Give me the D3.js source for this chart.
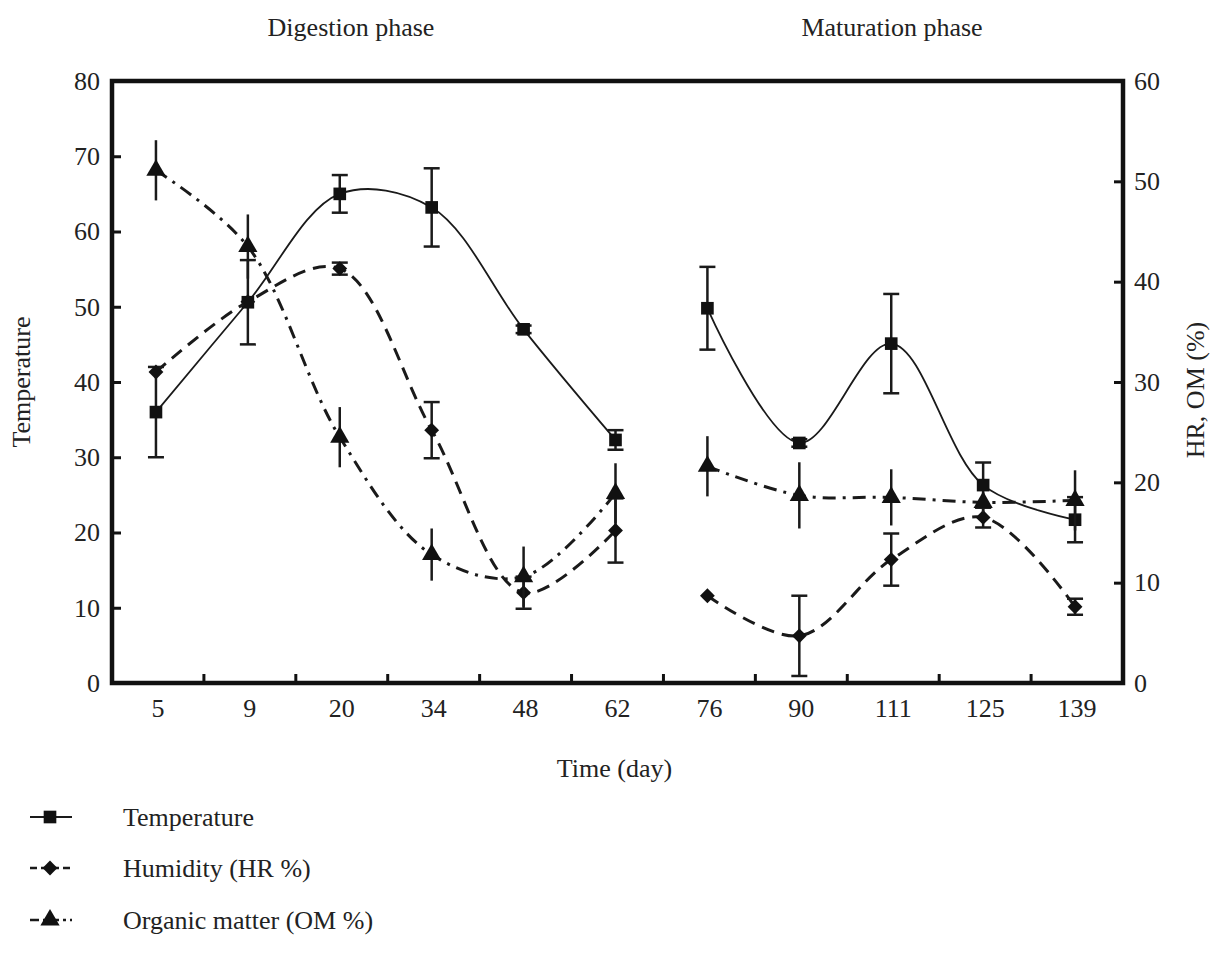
<!DOCTYPE html>
<html>
<head>
<meta charset="utf-8">
<script src="https://cdn.jsdelivr.net/npm/d3@7"></script>
<style>
  html, body { margin: 0; padding: 0; background: #fff; }
  svg { display: block; }
  text { font-family: "Liberation Serif", "DejaVu Serif", serif; fill: #222; }
</style>
</head>
<body>
<svg id="chart" width="1218" height="960"></svg>
<script>
// ---- data ----
const days = ["5", "9", "20", "34", "48", "62", "76", "90", "111", "125", "139"];
const temperature = [36.0, 50.6, 65.0, 63.2, 47.0, 32.3, 49.8, 31.9, 45.1, 26.3, 21.7];
const temperatureErr = [6.0, 5.6, 2.5, 5.2, 0.5, 1.3, 5.5, 0.5, 6.6, 3.0, 3.0];
const humidity = [31.0, 38.0, 41.3, 25.2, 9.0, 15.2, 8.7, 4.7, 12.3, 16.5, 7.6];
const humidityErr = [0, 0, 0.6, 2.8, 1.6, 3.2, 0, 4.0, 2.6, 1.0, 0.8];
const organic = [51.1, 43.5, 24.5, 12.8, 10.6, 18.9, 21.6, 18.7, 18.5, 18.0, 18.2];
const organicErr = [3.0, 3.2, 3.0, 2.6, 3.0, 3.0, 3.0, 3.3, 2.8, 1.0, 3.0];
const phases = ["Digestion phase", "Maturation phase"];
const phaseIndex = [0, 0, 0, 0, 0, 0, 1, 1, 1, 1, 1];
const leftTicks = [0, 10, 20, 30, 40, 50, 60, 70, 80];
const rightTicks = [0, 10, 20, 30, 40, 50, 60];

// ---- layout ----
const svg = d3.select("#chart");
const L = 112, R = 1123, T = 81, B = 683;

const x = d3.scaleBand().domain(days).range([L, R]);
const cx = d => x(d) + x.bandwidth() / 2 - 2;
const yL = d3.scaleLinear().domain([0, 80]).range([B, T]);
const yR = d3.scaleLinear().domain([0, 60]).range([B, T]);

const fontSize = 26;

// axes
const gL = svg.append("g").attr("transform", `translate(${L},0)`)
  .call(d3.axisLeft(yL).tickValues(leftTicks).tickSize(-9).tickPadding(12).tickFormat(d3.format("d")));
const gR = svg.append("g").attr("transform", `translate(${R},0)`)
  .call(d3.axisRight(yR).tickValues(rightTicks).tickSize(-9).tickPadding(11).tickFormat(d3.format("d")));
const gX = svg.append("g").attr("transform", `translate(0,${B})`)
  .call(d3.axisBottom(x).tickSize(0).tickPadding(18));
[gL, gR, gX].forEach(g => {
  g.select(".domain").remove();
  g.selectAll(".tick line").attr("stroke", "#111").attr("stroke-width", 3);
  g.selectAll(".tick text").style("font-family", "Liberation Serif").style("font-size", fontSize + "px").attr("fill", "#222");
});
gX.selectAll(".tick text").attr("dy", "0.6em");

// x-axis tick marks between categories
svg.append("g").selectAll("line").data(days.slice(1)).join("line")
  .attr("x1", d => x(d)).attr("x2", d => x(d))
  .attr("y1", B).attr("y2", B - 9)
  .attr("stroke", "#111").attr("stroke-width", 3);

// frame
svg.append("rect").attr("x", L).attr("y", T).attr("width", R - L).attr("height", B - T)
  .attr("fill", "none").attr("stroke", "#111").attr("stroke-width", 4.5);

// axis titles
svg.append("text").attr("transform", `translate(30,${(T + B) / 2}) rotate(-90)`)
  .attr("text-anchor", "middle").style("font-size", fontSize + "px").text("Temperature");
svg.append("text").attr("transform", `translate(1204,${(T + B) / 2 + 8}) rotate(-90)`)
  .attr("text-anchor", "middle").style("font-size", fontSize + "px").text("HR, OM (%)");
svg.append("text").attr("x", (L + R) / 2 - 3).attr("y", 777)
  .attr("text-anchor", "middle").style("font-size", fontSize + "px").text("Time (day)");

// phase titles
const phaseX = [351, 892];
svg.append("g").selectAll("text").data(phases).join("text")
  .attr("x", (d, i) => phaseX[i]).attr("y", 36)
  .attr("text-anchor", "middle").style("font-size", fontSize + "px").text(d => d);

// ---- series ----
const series = [
  { name: "Temperature", values: temperature, err: temperatureErr, y: yL, dash: null, width: 1.8, symbol: d3.symbolSquare, size: 160, rot: 0, caps: true },
  { name: "Humidity (HR %)", values: humidity, err: humidityErr, y: yR, dash: "13,8", width: 3, symbol: d3.symbolSquare, size: 110, rot: 45, caps: true },
  { name: "Organic matter (OM %)", values: organic, err: organicErr, y: yR, dash: "13,7,3,7", width: 3, symbol: d3.symbolTriangle, size: 160, rot: 0, caps: false }
];

const plot = svg.append("g");
series.forEach(s => {
  const pts = days.map((d, i) => ({ d, v: s.values[i], e: s.err[i], p: phaseIndex[i] }));
  const line = d3.line().x(p => cx(p.d)).y(p => s.y(p.v)).curve(d3.curveCatmullRom.alpha(0.5));
  [0, 1].forEach(ph => {
    plot.append("path").datum(pts.filter(p => p.p === ph))
      .attr("d", line).attr("fill", "none").attr("stroke", "#1a1a1a")
      .attr("stroke-width", s.width).attr("stroke-dasharray", s.dash);
  });
  // error bars
  const eb = plot.append("g");
  pts.filter(p => p.e > 0).forEach(p => {
    eb.append("line").attr("x1", cx(p.d)).attr("x2", cx(p.d))
      .attr("y1", s.y(p.v - p.e)).attr("y2", s.y(p.v + p.e))
      .attr("stroke", "#1a1a1a").attr("stroke-width", 2.5);
    if (s.caps) {
      [p.v - p.e, p.v + p.e].forEach(v => {
        eb.append("line").attr("x1", cx(p.d) - 8).attr("x2", cx(p.d) + 8)
          .attr("y1", s.y(v)).attr("y2", s.y(v))
          .attr("stroke", "#1a1a1a").attr("stroke-width", 2.5);
      });
    }
  });
  // markers
  plot.append("g").selectAll("path").data(pts).join("path")
    .attr("transform", p => `translate(${cx(p.d)},${s.y(p.v)}) rotate(${s.rot})`)
    .attr("d", d3.symbol(s.symbol, s.size)).attr("fill", "#111");
});

// ---- legend ----
const leg = svg.append("g");
const legY = [817, 868, 920];
series.forEach((s, i) => {
  const g = leg.append("g").attr("transform", `translate(0,${legY[i]})`);
  g.append("line").attr("x1", 30).attr("x2", 72).attr("y1", 0).attr("y2", 0)
    .attr("stroke", "#1a1a1a").attr("stroke-width", s.dash ? 2.5 : 1.8)
    .attr("stroke-dasharray", s.dash ? (i === 1 ? "7,4" : "9,4,3,4") : null);
  g.append("path").attr("transform", `translate(50,0) rotate(${s.rot})`).attr("d", d3.symbol(s.symbol, s.size)).attr("fill", "#111");
  g.append("text").attr("x", 123).attr("y", 0).attr("dy", "0.35em")
    .style("font-size", fontSize + "px").text(s.name);
});
</script>
</body>
</html>
